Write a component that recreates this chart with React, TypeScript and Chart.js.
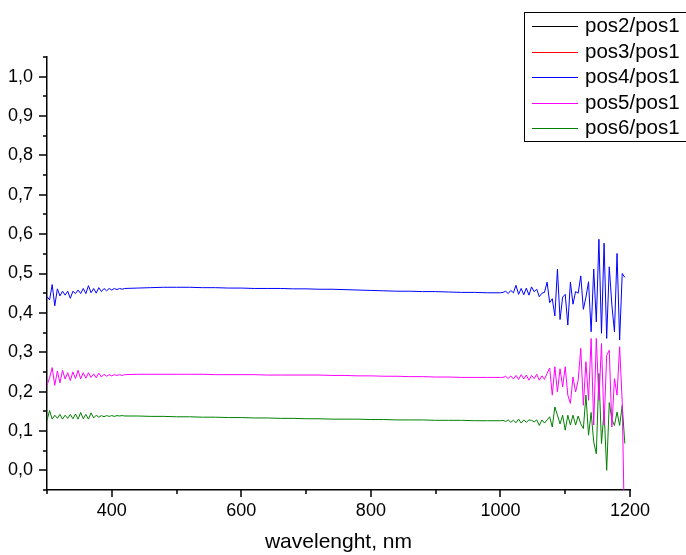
import React, { useEffect, useRef } from 'react';
import { Chart, registerables } from 'chart.js';

Chart.register(...registerables);

const wavelengths = [
  300, 304, 308, 312, 316, 320, 324, 328, 332, 336, 340, 344, 348, 352, 356, 360, 364, 368, 372, 376, 380, 384, 388, 392, 396, 400, 404, 408, 412, 416, 420,
  440, 460, 480, 500, 520, 540, 560, 580, 600, 620, 640, 660, 680, 700, 720, 740, 760, 780, 800, 820, 840, 860, 880, 900, 920, 940, 960, 980, 1000,
  1004, 1008, 1012, 1016, 1020, 1024, 1028, 1032, 1036, 1040, 1044, 1048, 1052, 1056, 1060, 1064, 1068, 1072, 1076, 1080, 1084, 1088, 1092, 1096,
  1100, 1104, 1108, 1112, 1116, 1120, 1124, 1128, 1132, 1136, 1140, 1144, 1148, 1152, 1156, 1160, 1164, 1168, 1172, 1176, 1180, 1184, 1188, 1192,
];

const pos2: number[] = [];
const pos3: number[] = [];

const pos4 = [
  0.441, 0.433, 0.472, 0.418, 0.461, 0.443, 0.455, 0.445, 0.455, 0.437, 0.455, 0.449, 0.458, 0.449, 0.462, 0.449, 0.469, 0.451, 0.462, 0.45, 0.464, 0.454, 0.462, 0.456, 0.462, 0.458, 0.462, 0.459, 0.462, 0.46, 0.462,
  0.463, 0.464, 0.465, 0.465, 0.465, 0.464, 0.464, 0.463, 0.463, 0.462, 0.462, 0.462, 0.461, 0.461, 0.46, 0.46, 0.459, 0.458, 0.457, 0.456, 0.455, 0.455, 0.454, 0.454, 0.453, 0.452, 0.452, 0.451, 0.451,
  0.452, 0.455, 0.449, 0.457, 0.451, 0.47, 0.447, 0.462, 0.446, 0.463, 0.445, 0.466, 0.454, 0.46, 0.441, 0.45, 0.452, 0.478, 0.426, 0.436, 0.392, 0.511, 0.383, 0.44,
  0.447, 0.369, 0.478, 0.422, 0.454, 0.45, 0.494, 0.409, 0.44, 0.479, 0.352, 0.511, 0.377, 0.587, 0.348, 0.577, 0.335, 0.517, 0.42, 0.352, 0.551, 0.331, 0.5, 0.49,
];

const pos5 = [
  0.216, 0.235, 0.261, 0.216, 0.252, 0.222, 0.254, 0.232, 0.248, 0.228, 0.25, 0.233, 0.254, 0.232, 0.248, 0.234, 0.248, 0.236, 0.245, 0.235, 0.247, 0.237, 0.244, 0.239, 0.243, 0.24, 0.243, 0.241, 0.243, 0.241, 0.243,
  0.244, 0.244, 0.244, 0.244, 0.244, 0.244, 0.243, 0.243, 0.243, 0.243, 0.242, 0.242, 0.242, 0.242, 0.242, 0.241, 0.241, 0.24, 0.24, 0.239, 0.239, 0.238, 0.238, 0.237, 0.237, 0.236, 0.236, 0.236, 0.236,
  0.236, 0.239, 0.233, 0.24, 0.232, 0.241, 0.231, 0.243, 0.232, 0.242, 0.229, 0.241, 0.233, 0.244, 0.229, 0.24, 0.231, 0.246, 0.26, 0.191, 0.263, 0.199, 0.258, 0.212,
  0.263, 0.191, 0.17, 0.237, 0.199, 0.229, 0.31, 0.165, 0.276, 0.178, 0.335, 0.115, 0.335, 0.178, 0.322, 0.115, 0.292, 0.305, 0.11, 0.233, 0.191, 0.314, 0.173, -0.2,
];

const pos6 = [
  0.127, 0.152, 0.13, 0.14, 0.132, 0.142, 0.13, 0.14, 0.132, 0.142, 0.131, 0.143, 0.13, 0.147, 0.131, 0.142, 0.13, 0.146, 0.133, 0.14, 0.135, 0.139, 0.136, 0.139, 0.137, 0.139, 0.137, 0.139, 0.138, 0.139, 0.138,
  0.138, 0.137, 0.137, 0.136, 0.136, 0.135, 0.135, 0.134, 0.134, 0.133, 0.133, 0.132, 0.132, 0.131, 0.131, 0.13, 0.13, 0.13, 0.129, 0.129, 0.128, 0.128, 0.128, 0.127, 0.127, 0.127, 0.126, 0.126, 0.126,
  0.127, 0.124, 0.128, 0.122, 0.127, 0.121, 0.13, 0.12, 0.128, 0.122, 0.128, 0.127, 0.123, 0.128, 0.114, 0.128, 0.12, 0.128, 0.136, 0.11, 0.161, 0.14, 0.118, 0.14,
  0.102, 0.14, 0.115, 0.14, 0.115, 0.138, 0.118, 0.106, 0.191, 0.089, 0.147, 0.072, 0.042, 0.246, 0.068, 0.152, 0.0, 0.172, 0.129, 0.114, 0.148, 0.114, 0.165, 0.068,
];

const seriesNames = ['pos2/pos1', 'pos3/pos1', 'pos4/pos1', 'pos5/pos1', 'pos6/pos1'];
const seriesColors = ['#000000', '#ff0000', '#0000ff', '#ff00ff', '#008000'];
const seriesValues = [pos2, pos3, pos4, pos5, pos6];

const xMajorTicks = [400, 600, 800, 1000, 1200];
const xMinorTicks = [300, 500, 700, 900, 1100];
const yMajorTicks = [0, 0.1, 0.2, 0.3, 0.4, 0.5, 0.6, 0.7, 0.8, 0.9, 1.0];
const yMinorTicks = [-0.05, 0.05, 0.15, 0.25, 0.35, 0.45, 0.55, 0.65, 0.75, 0.85, 0.95, 1.05];

const FONT = "'Liberation Sans', Arial, sans-serif";

const tickPlugin = {
  id: 'originTicks',
  afterDraw(chart: any) {
    const ctx = chart.ctx;
    const xs = chart.scales.x;
    const ys = chart.scales.y;
    const area = chart.chartArea;
    ctx.save();
    ctx.strokeStyle = '#000';
    ctx.lineWidth = 1.5;
    ctx.beginPath();
    xMajorTicks.forEach((v) => {
      const p = Math.round(xs.getPixelForValue(v));
      ctx.moveTo(p, area.bottom);
      ctx.lineTo(p, area.bottom + 7);
    });
    xMinorTicks.forEach((v) => {
      const p = Math.round(xs.getPixelForValue(v));
      ctx.moveTo(p, area.bottom);
      ctx.lineTo(p, area.bottom + 4);
    });
    yMajorTicks.forEach((v) => {
      const p = Math.round(ys.getPixelForValue(v));
      ctx.moveTo(area.left - 8, p);
      ctx.lineTo(area.left, p);
    });
    yMinorTicks.forEach((v) => {
      const p = Math.round(ys.getPixelForValue(v));
      ctx.moveTo(area.left - 4, p);
      ctx.lineTo(area.left, p);
    });
    ctx.stroke();
    ctx.restore();
  },
};

const legendPlugin = {
  id: 'boxLegend',
  afterDraw(chart: any) {
    const ctx = chart.ctx;
    ctx.save();
    ctx.fillStyle = '#fff';
    ctx.fillRect(524, 12, 170, 129);
    ctx.strokeStyle = '#000';
    ctx.lineWidth = 1;
    ctx.strokeRect(524.5, 12.5, 170, 129);
    ctx.font = `20.5px ${FONT}`;
    ctx.textBaseline = 'middle';
    ctx.textAlign = 'left';
    seriesNames.forEach((name, i) => {
      const y = Math.round(26 + i * 25.5) + 0.5;
      ctx.strokeStyle = seriesColors[i];
      ctx.beginPath();
      ctx.moveTo(532, y);
      ctx.lineTo(578, y);
      ctx.stroke();
      ctx.fillStyle = '#000';
      ctx.fillText(name, 585, y);
    });
    ctx.restore();
  },
};

export default function App() {
  const canvasRef = useRef<HTMLCanvasElement>(null);

  useEffect(() => {
    if (!canvasRef.current) return;
    const datasets = seriesNames.map((name, i) => ({
      label: name,
      data: seriesValues[i].map((v, j) => ({ x: wavelengths[j], y: v })),
      borderColor: seriesColors[i],
      backgroundColor: seriesColors[i],
      borderWidth: 1,
      pointRadius: 0,
      tension: 0,
      fill: false,
    }));
    const chart = new Chart(canvasRef.current, {
      type: 'line',
      data: { datasets },
      options: {
        animation: false,
        responsive: false,
        devicePixelRatio: 1,
        layout: { padding: { left: 0, top: 57, right: 56, bottom: 0 } },
        plugins: {
          legend: { display: false },
          tooltip: { enabled: false },
        },
        scales: {
          x: {
            type: 'linear',
            min: 300,
            max: 1200,
            afterBuildTicks: (s: any) => {
              s.ticks = xMajorTicks.map((v) => ({ value: v }));
            },
            afterFit: (s: any) => {
              s.height = 65;
            },
            grid: { display: false, drawTicks: false },
            border: { display: true, color: '#000', width: 1.5 },
            ticks: {
              color: '#000',
              font: { family: FONT, size: 18 },
              padding: 10,
              maxRotation: 0,
              autoSkip: false,
              callback: (v: any) => String(v),
            },
            title: {
              display: true,
              text: 'wavelenght, nm',
              color: '#000',
              font: { family: FONT, size: 21 },
              padding: { top: 0, bottom: 0 },
            },
          },
          y: {
            type: 'linear',
            min: -0.05,
            max: 1.05,
            afterBuildTicks: (s: any) => {
              s.ticks = yMajorTicks.map((v) => ({ value: v }));
            },
            afterFit: (s: any) => {
              s.width = 47;
            },
            grid: { display: false, drawTicks: false },
            border: { display: true, color: '#000', width: 1.5 },
            ticks: {
              color: '#000',
              font: { family: FONT, size: 18 },
              padding: 14,
              autoSkip: false,
              callback: (v: any) => Number(v).toFixed(1).replace('.', ','),
            },
          },
        },
      },
      plugins: [tickPlugin, legendPlugin],
    });
    return () => chart.destroy();
  }, []);

  return (
    <div style={{ position: 'fixed', left: 0, top: 0, width: 686, height: 555, background: '#fff' }}>
      <canvas ref={canvasRef} width={686} height={555} />
    </div>
  );
}
